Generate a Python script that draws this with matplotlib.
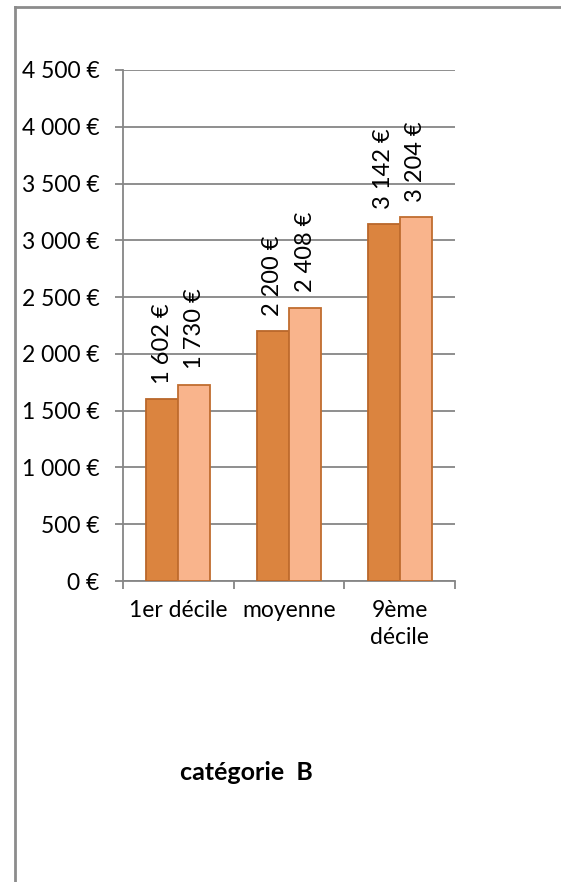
# Salaires catégorie B : 1er décile, moyenne, 9ème décile
import numpy as np
import matplotlib.pyplot as plt
from matplotlib.lines import Line2D
from matplotlib.ticker import FuncFormatter

categories = ['1er décile', 'moyenne', '9ème\ndécile']
serie_1 = [1602, 2200, 3142]
serie_2 = [1730, 2408, 3204]
yticks = [0, 500, 1000, 1500, 2000, 2500, 3000, 3500, 4000, 4500]

plt.rcParams['font.family'] = ['Lato', 'DejaVu Sans']

def euro(v):
    return f"{int(v):,} €".replace(',', ' ')

fig = plt.figure(figsize=(5.61, 8.82), dpi=100)
ax = fig.add_axes([123/561, 1 - 581/882, (455 - 123)/561, (581 - 70)/882])

x = np.arange(len(categories))
w = 0.29
b1 = ax.bar(x - w/2, serie_1, w, color='#DB843F', edgecolor='#B9672A', linewidth=1.3, zorder=3)
b2 = ax.bar(x + w/2, serie_2, w, color='#F9B48C', edgecolor='#C06D2F', linewidth=1.3, zorder=3)

# étiquettes de données verticales
for bars, vals in [(b1, serie_1), (b2, serie_2)]:
    for rect, v in zip(bars, vals):
        ax.annotate(euro(v), (rect.get_x() + rect.get_width()/2, v),
                    xytext=(0, 11), textcoords='offset points',
                    rotation=90, ha='center', va='bottom', fontsize=17)

ax.set_xlim(-0.5, 2.5)
ax.set_ylim(0, 4500)
ax.set_yticks(yticks)
ax.yaxis.set_major_formatter(FuncFormatter(lambda v, p: euro(v)))
ax.grid(axis='y', color='#868686', linewidth=1.3, zorder=0)

ax.set_xticks(x)
ax.set_xticklabels(categories, fontsize=16.5, linespacing=1.35)
ax.set_xticks([-0.5, 0.5, 1.5, 2.5], minor=True)
ax.tick_params(axis='x', which='major', length=0, pad=14)
ax.tick_params(axis='x', which='minor', length=6, width=1.3, color='#868686')
ax.tick_params(axis='y', length=6, width=1.3, color='#868686', pad=11, labelsize=16.5)

for s in ['top', 'right']:
    ax.spines[s].set_visible(False)
for s in ['left', 'bottom']:
    ax.spines[s].set_color('#868686')
    ax.spines[s].set_linewidth(1.3)

fig.text(246/561, 1 - 773/882, 'catégorie  B', ha='center', va='center',
         fontsize=18, fontweight='bold')

# cadre du graphique
fig.add_artist(Line2D([15/561, 15/561], [0, 1 - 7/882], color='#8C8C8C', linewidth=2))
fig.add_artist(Line2D([15/561, 1], [1 - 7/882, 1 - 7/882], color='#8C8C8C', linewidth=2))

plt.savefig('out.png', dpi=100)
